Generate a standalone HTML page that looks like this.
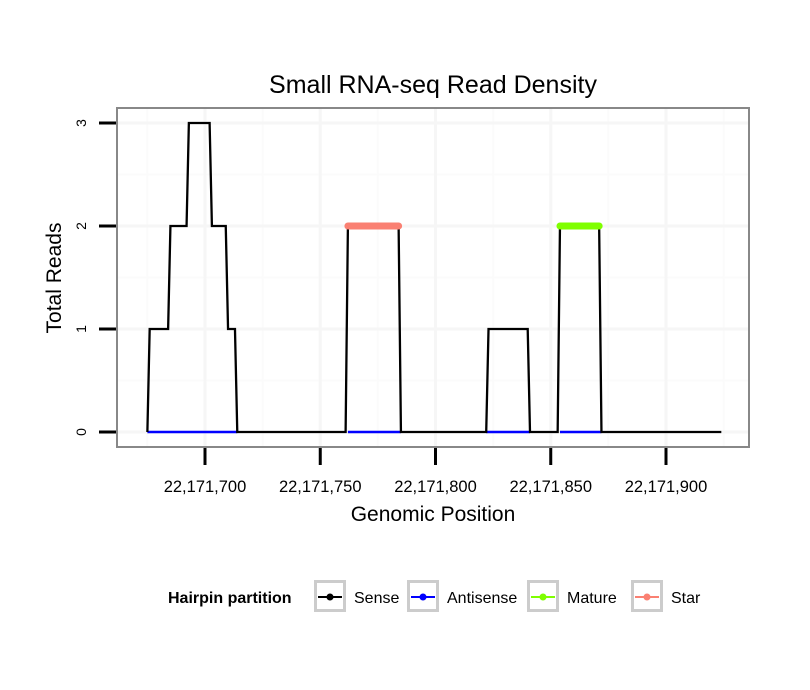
<!DOCTYPE html>
<html><head><meta charset="utf-8">
<style>
body{margin:0;background:#fff;}
svg{display:block;font-family:"Liberation Sans",sans-serif;}
</style></head>
<body>
<svg id="chart" width="810" height="690" viewBox="0 0 810 690">
<rect width="810" height="690" fill="#fff"/>
<text x="433" y="93" text-anchor="middle" font-size="25">Small RNA-seq Read Density</text>
<g id="grid"></g>
<g id="marks"></g>
<rect x="117" y="108" width="632" height="339" fill="none" stroke="#888" stroke-width="2"/>
<g id="axes"></g>
<text x="433" y="521" text-anchor="middle" font-size="21">Genomic Position</text>
<text transform="translate(61,278) rotate(-90)" text-anchor="middle" font-size="21">Total Reads</text>
<g>
<text x="168" y="603" font-size="16" font-weight="bold">Hairpin partition</text>
<g id="legend-items"></g>
</g>
</svg>
<script>
const xTicks=[700,750,800,850,900];
const xTickLabels=["22,171,700","22,171,750","22,171,800","22,171,850","22,171,900"];
const yTicks=[0,1,2,3];
const sensePos=[675,676,684,685,692,693,702,703,709,710,713,714,761,762,784,785,822,823,840,841,853,854,871,872,924];
const senseVal=[0,1,1,2,2,3,3,2,2,1,1,0,0,2,2,0,0,1,1,0,0,2,2,0,0];
const antisenseSegs=[[675,714],[762,785],[822,841],[854,872]];
const starSegs=[[762,784]];
const starVal=[2];
const matureSegs=[[854,871]];
const matureVal=[2];
const legendLabels=["Sense","Antisense","Mature","Star"];
const legendColors=["#000","#0000ff","#7fff00","#fa8072"];

const NS="http://www.w3.org/2000/svg";
function X(v){return 205+(v-700)*2.305;}
function Y(v){return 432-v*103;}
function mk(tag,attrs,parent){const e=document.createElementNS(NS,tag);for(const k in attrs)e.setAttribute(k,attrs[k]);parent.appendChild(e);return e;}
const grid=document.getElementById('grid'),marks=document.getElementById('marks'),axes=document.getElementById('axes');
for(let i=0;i<=xTicks.length;i++){const v=xTicks[0]-25+50*i;const x=X(v);if(x>118&&x<748){const l=mk('line',{x1:x,x2:x,y1:109,y2:446,stroke:'#fbfbfb','stroke-width':2},grid);}}
for(let i=0;i<yTicks.length-1;i++){const y=Y(yTicks[i]+0.5);const l=mk('line',{x1:118,x2:748,y1:y,y2:y,stroke:'#fbfbfb','stroke-width':2},grid);}
xTicks.forEach((v,i)=>{const x=X(v);
const g=mk('line',{x1:x,x2:x,y1:109,y2:446,stroke:'#f6f6f6','stroke-width':3},grid);
const t=mk('line',{x1:x,x2:x,y1:448,y2:465,stroke:'#000','stroke-width':3},axes);
const tx=mk('text',{x:x,y:492,'text-anchor':'middle','font-size':16.5},axes);tx.textContent=xTickLabels[i];});
yTicks.forEach(v=>{const y=Y(v);
const g=mk('line',{x1:118,x2:748,y1:y,y2:y,stroke:'#f6f6f6','stroke-width':3},grid);
const t=mk('line',{x1:99,x2:116,y1:y,y2:y,stroke:'#000','stroke-width':3},axes);
const tx=mk('text',{transform:`translate(86,${y}) rotate(-90)`,'text-anchor':'middle','font-size':14},axes);tx.textContent=v;});
antisenseSegs.forEach(s=>{const l=mk('line',{x1:X(s[0]),x2:X(s[1]),y1:Y(0),y2:Y(0),stroke:'#0000ff','stroke-width':2.5},marks);});
let d='';sensePos.forEach((p,i)=>{d+=(i?'L':'M')+X(p).toFixed(2)+','+Y(senseVal[i]).toFixed(2);});
const sp=mk('path',{d:d,fill:'none',stroke:'#000','stroke-width':2.3,'stroke-linejoin':'miter'},marks);
starSegs.forEach((s,i)=>{const l=mk('line',{x1:X(s[0]),x2:X(s[1]),y1:Y(starVal[i]),y2:Y(starVal[i]),stroke:'#fa8072','stroke-width':7,'stroke-linecap':'round'},marks);});
matureSegs.forEach((s,i)=>{const l=mk('line',{x1:X(s[0]),x2:X(s[1]),y1:Y(matureVal[i]),y2:Y(matureVal[i]),stroke:'#7fff00','stroke-width':7,'stroke-linecap':'round'},marks);});
const li=document.getElementById('legend-items');
const keyX=[314,407,527,631];
legendLabels.forEach((lab,i)=>{const kx=keyX[i];
const g=mk('g',{},li);
mk('rect',{x:kx+1.5,y:581.5,width:29,height:29,fill:'#fff',stroke:'#ccc','stroke-width':3},g);
mk('line',{x1:kx+4,x2:kx+28,y1:597,y2:597,stroke:legendColors[i],'stroke-width':2},g);
mk('circle',{cx:kx+16,cy:597,r:3.5,fill:legendColors[i]},g);
const t=mk('text',{x:kx+40,y:603,'font-size':16},g);t.textContent=lab;});
</script>
</body></html>
